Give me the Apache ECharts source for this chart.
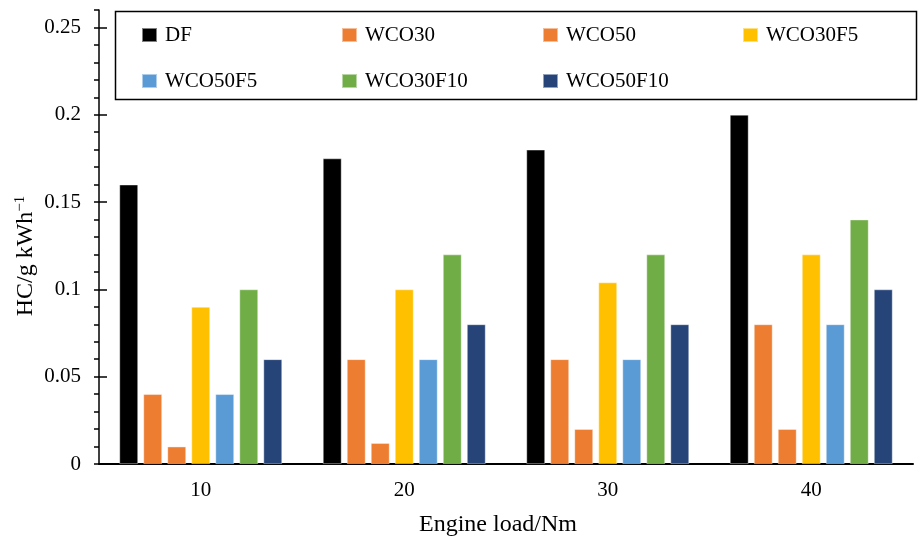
<!DOCTYPE html>
<html>
<head>
<meta charset="utf-8">
<script src="https://cdn.jsdelivr.net/npm/echarts@6/dist/echarts.min.js"></script>
<style>
html,body{margin:0;padding:0;background:#fff;}
#chart{width:918px;height:543px;}
</style>
</head>
<body>
<div id="chart"></div>
<script>
const categories = ['10', '20', '30', '40'];
const seriesNames = ['DF', 'WCO30', 'WCO50', 'WCO30F5', 'WCO50F5', 'WCO30F10', 'WCO50F10'];
const DF = [0.16, 0.175, 0.18, 0.2];
const WCO30 = [0.04, 0.06, 0.06, 0.08];
const WCO50 = [0.01, 0.012, 0.02, 0.02];
const WCO30F5 = [0.09, 0.1, 0.104, 0.12];
const WCO50F5 = [0.04, 0.06, 0.06, 0.08];
const WCO30F10 = [0.1, 0.12, 0.12, 0.14];
const WCO50F10 = [0.06, 0.08, 0.08, 0.1];
const yTicks = [0, 0.05, 0.1, 0.15, 0.2, 0.25];
const colors = ['#000000', '#ED7D31', '#ED7D31', '#FFC000', '#5B9BD5', '#70AD47', '#264478'];
const seriesValues = [DF, WCO30, WCO50, WCO30F5, WCO50F5, WCO30F10, WCO50F10];

const FONT = 'Liberation Serif';
const legendPos = [
  [141, 24], [341, 24], [542, 24], [742, 24],
  [141, 70], [341, 70], [542, 70]
];

const chart = echarts.init(document.getElementById('chart'), null, {renderer: 'canvas'});

const legends = seriesNames.map((n, i) => ({
  data: [n],
  left: legendPos[i][0],
  top: legendPos[i][1],
  padding: 0,
  icon: 'rect',
  itemWidth: 15,
  itemHeight: 14,
  selectedMode: false,
  textStyle: {fontFamily: FONT, fontSize: 21, color: '#000', lineHeight: 22, padding: [0, 0, 0, 3]}
}));

const option = {
  backgroundColor: '#fff',
  animation: false,
  textStyle: {fontFamily: FONT},
  legend: legends,
  graphic: [{
    type: 'rect',
    shape: {x: 115.5, y: 11.5, width: 801, height: 88},
    style: {fill: '#fff', stroke: '#000', lineWidth: 1.5},
    z: -1
  }],
  grid: {left: 99, right: 5, top: 10, bottom: 79, containLabel: false},
  xAxis: {
    type: 'category',
    data: categories,
    axisLine: {show: true, lineStyle: {color: '#000', width: 2}},
    axisTick: {show: false},
    axisLabel: {fontFamily: FONT, fontSize: 21, color: '#000', margin: 16},
    name: 'Engine load/Nm',
    nameLocation: 'middle',
    nameGap: 49,
    nameTextStyle: {fontFamily: FONT, fontSize: 24, color: '#000', padding: [0, 16, 0, 0]}
  },
  yAxis: [{
    type: 'value',
    min: 0, max: 0.26, interval: 0.01,
    position: 'left',
    axisLine: {show: true, lineStyle: {color: '#000', width: 1.5}},
    axisTick: {show: true, inside: false, length: 5, lineStyle: {color: '#000', width: 1.5}},
    axisLabel: {show: false},
    splitLine: {show: false},
    name: 'HC/g kWh{sup|−1}',
    nameLocation: 'middle',
    nameRotate: 90,
    nameGap: 61,
    nameTextStyle: {
      fontFamily: FONT, fontSize: 24, color: '#000', padding: [0, 38, 0, 0],
      rich: {sup: {fontFamily: FONT, fontSize: 15, color: '#000', verticalAlign: 'top', padding: [0, 0, 10, 0]}}
    }
  }, {
    type: 'value',
    min: 0, max: 0.26, interval: 0.05,
    position: 'left',
    offset: 0,
    axisLine: {show: false},
    axisTick: {show: true, inside: true, length: 8, customValues: yTicks, lineStyle: {color: '#000', width: 1.5}},
    axisLabel: {show: true, customValues: yTicks, fontFamily: FONT, fontSize: 21, color: '#000', margin: 18},
    splitLine: {show: false}
  }],
  series: seriesNames.map((n, i) => ({
    name: n,
    type: 'bar',
    data: seriesValues[i],
    yAxisIndex: 0,
    barCategoryGap: '20%',
    barGap: '28%',
    itemStyle: {color: colors[i], borderColor: 'rgba(255,255,255,0.5)', borderWidth: 0.8}
  }))
};
chart.setOption(option);
</script>
</body>
</html>
